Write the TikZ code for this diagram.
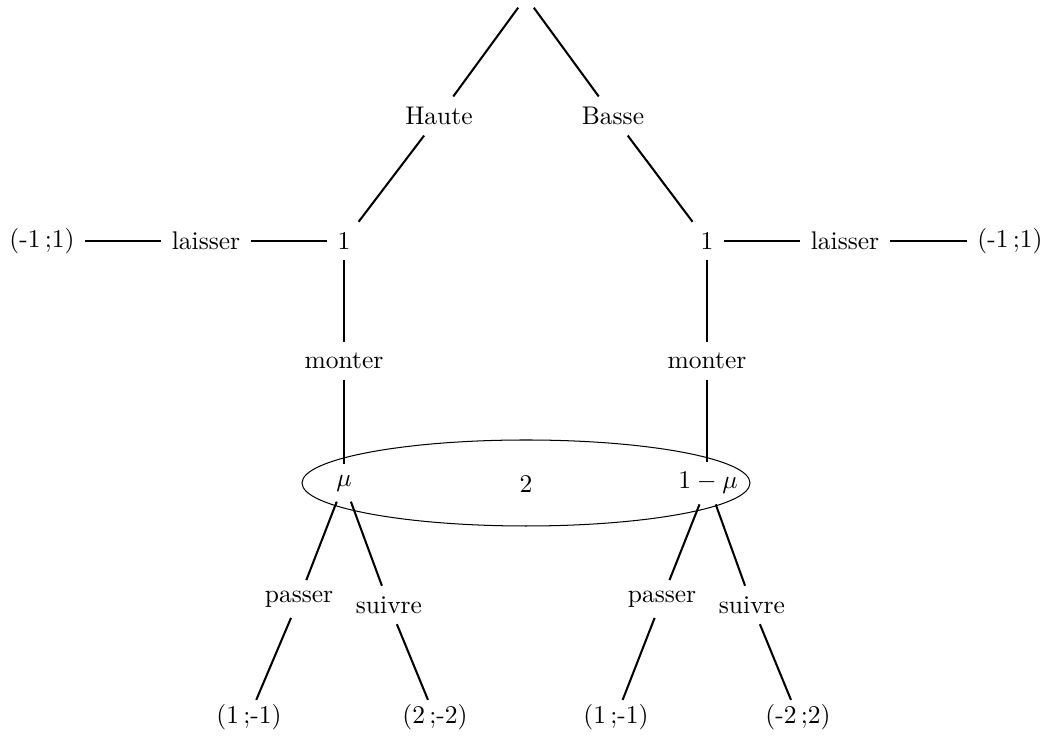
\documentclass[tikz,border=0pt]{standalone}
\begin{document}
\begin{tikzpicture}[x=0.392pt,y=-0.392pt,
  every node/.style={inner sep=4pt},
  payoff/.style={inner sep=1.5pt},
  branch/.style={thick},
  infoset/.style={draw,line width=0.4pt}]
\useasboundingbox (0,0) rectangle (1043,738);
% root and first moves
\node (root) at (526,-3) {};
\node (haute) at (439,116) {Haute};
\node (basse) at (613,116) {Basse};
% decision nodes of player 1
\node (p1l) at (344,241) {1};
\node (p1r) at (707,241) {1};
\node (laisl) at (206,241) {laisser};
\node (laisr) at (845,241) {laisser};
\node (payl) at (42,241) {(-1\,;1)};
\node (payr) at (1010,241) {(-1\,;1)};
\node (montl) at (344,361) {monter};
\node (montr) at (707,361) {monter};
% information set of player 2
\draw[infoset] (526,483) ellipse [x radius=224, y radius=43];
\node (mu) at (344,483) {$\mu$};
\node (two) at (526,484) {2};
\node (omu) at (708,483) {$1-\mu$};
% moves of player 2
\node (passl) at (299,599) {passer};
\node (suivl) at (389,605) {suivre};
\node (passr) at (662,599) {passer};
\node (suivr) at (752,605) {suivre};
% payoffs
\node[payoff] (o1) at (249,717) {(1\,;-1)};
\node[payoff] (o2) at (435,717) {(2\,;-2)};
\node[payoff] (o3) at (616,717) {(1\,;-1)};
\node[payoff] (o4) at (798,717) {(-2\,;2)};
% branches
\draw[branch] (root) -- (haute) -- (p1l);
\draw[branch] (root) -- (basse) -- (p1r);
\draw[branch] (payl) -- (laisl) -- (p1l);
\draw[branch] (p1r) -- (laisr) -- (payr);
\draw[branch] (p1l) -- (montl) -- (mu);
\draw[branch] (p1r) -- (montr) -- (omu.north -| p1r);
\draw[branch] (mu) -- (passl) -- (o1);
\draw[branch] (mu) -- (suivl) -- (o2);
\draw[branch] (omu) -- (passr) -- (o3);
\draw[branch] (omu) -- (suivr) -- (o4);
\end{tikzpicture}
\end{document}
